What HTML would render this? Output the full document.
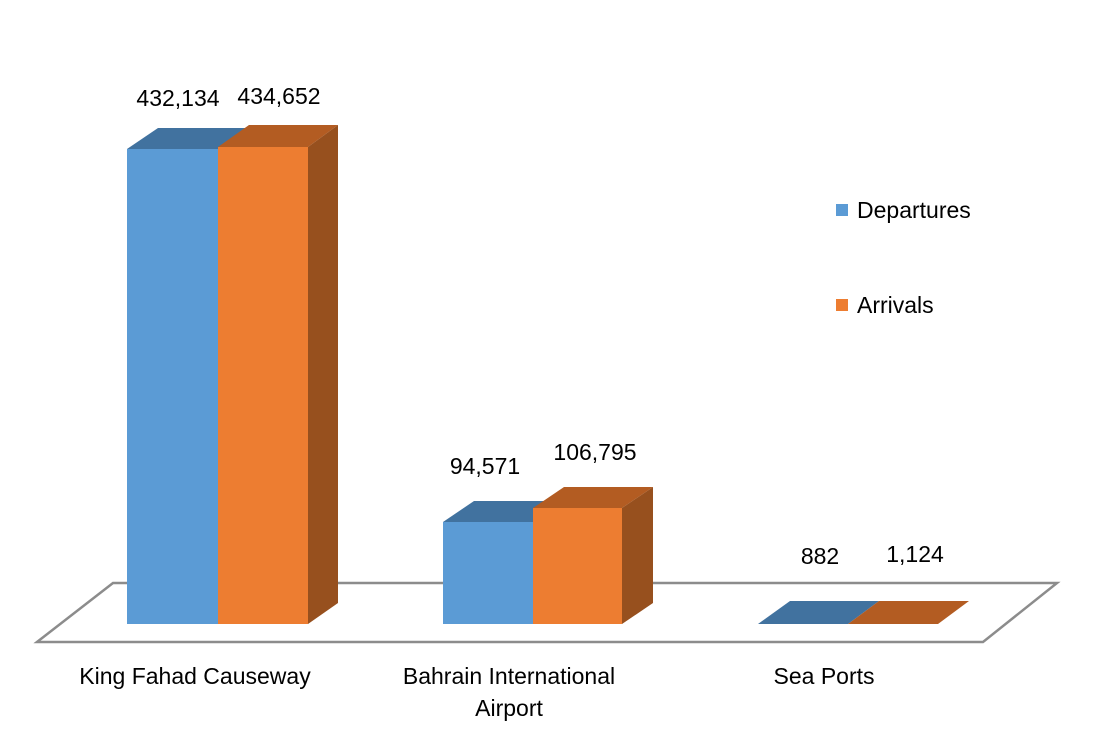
<!DOCTYPE html>
<html><head><meta charset="utf-8"><style>
body{margin:0;background:#fff}
svg text{font-family:"Liberation Sans",sans-serif;font-size:23px;fill:#000}
</style></head><body>
<svg width="1113" height="736" viewBox="0 0 1113 736">
<polygon points="37,642 113,583 1057,583 983,642" fill="#fff" stroke="#8c8c8c" stroke-width="2.5"/>
<polygon points="127,149 158,128 249,128 218,149" fill="#41729f"/>
<rect x="127" y="149" width="91" height="475" fill="#5b9bd5"/>
<polygon points="218,147 249,125 338,125 308,147" fill="#b35c22"/>
<polygon points="308,147 338,125 338,603 308,624" fill="#97501e"/>
<rect x="218" y="147" width="90" height="477" fill="#ed7d31"/>
<polygon points="443,522 474,501 564,501 533,522" fill="#41729f"/>
<rect x="443" y="522" width="90" height="102" fill="#5b9bd5"/>
<polygon points="533,508 564,487 653,487 622,508" fill="#b35c22"/>
<polygon points="622,508 653,487 653,603 622,624" fill="#97501e"/>
<rect x="533" y="508" width="89" height="116" fill="#ed7d31"/>
<polygon points="758,624 790,601 879,601 848,624" fill="#41729f"/>
<polygon points="848,624 879,601 969,601 938,624" fill="#b35c22"/>
<text x="178" y="106" text-anchor="middle">432,134</text>
<text x="279" y="104" text-anchor="middle">434,652</text>
<text x="485" y="474" text-anchor="middle">94,571</text>
<text x="595" y="460" text-anchor="middle">106,795</text>
<text x="820" y="564" text-anchor="middle">882</text>
<text x="915" y="562" text-anchor="middle">1,124</text>
<rect x="836" y="204" width="12" height="12" fill="#5b9bd5"/>
<text x="857" y="218">Departures</text>
<rect x="836" y="299" width="12" height="12" fill="#ed7d31"/>
<text x="857" y="313">Arrivals</text>
<text x="195" y="684" text-anchor="middle">King Fahad Causeway</text>
<text x="509" y="684" text-anchor="middle">Bahrain International</text>
<text x="509" y="716" text-anchor="middle">Airport</text>
<text x="824" y="684" text-anchor="middle">Sea Ports</text>
</svg>
</body></html>
